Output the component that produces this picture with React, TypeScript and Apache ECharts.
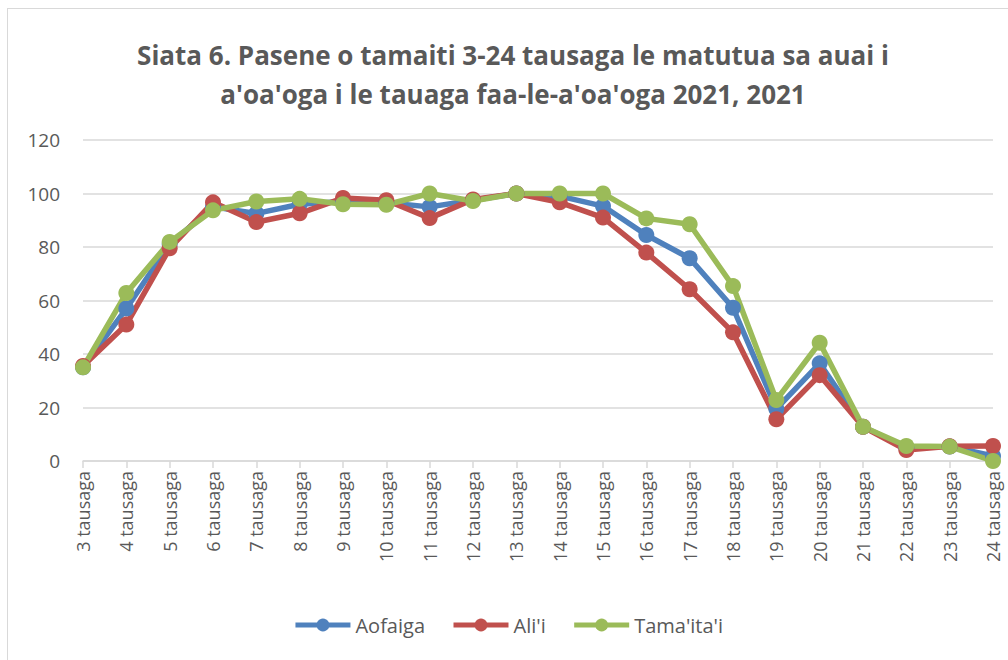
import React, { useEffect, useRef } from "react";
import * as echarts from "echarts";

const categories = [
  "3 tausaga", "4 tausaga", "5 tausaga", "6 tausaga", "7 tausaga", "8 tausaga",
  "9 tausaga", "10 tausaga", "11 tausaga", "12 tausaga", "13 tausaga", "14 tausaga",
  "15 tausaga", "16 tausaga", "17 tausaga", "18 tausaga", "19 tausaga", "20 tausaga",
  "21 tausaga", "22 tausaga", "23 tausaga", "24 tausaga",
];
const aofaiga = [35, 57, 81, 95, 92.5, 96, 97, 96.5, 95, 97.5, 100, 99, 95.3, 84.5, 75.8, 57.3, 19.5, 36.5, 12.8, 5, 5.4, 1.9];
const alii = [35.5, 51, 79.5, 96.7, 89.3, 92.6, 98.3, 97.5, 90.8, 97.8, 100, 96.7, 91, 77.9, 64.2, 48.1, 15.6, 32.1, 12.8, 4.1, 5.5, 5.6];
const tamaitai = [35, 62.8, 81.9, 93.7, 97, 98, 96, 95.8, 100, 97.2, 100, 100, 100, 90.7, 88.5, 65.4, 22.8, 44.2, 12.8, 5.6, 5.4, 0];
const yTicks = { min: 0, max: 120, interval: 20 };

const titleText = "Siata 6. Pasene o tamaiti 3-24 tausaga le matutua sa auai i\na'oa'oga i le tauaga faa-le-a'oa'oga 2021, 2021";

export default function App() {
  const ref = useRef<HTMLDivElement>(null);
  useEffect(() => {
    if (!ref.current) return;
    const chart = echarts.init(ref.current, null, { renderer: "svg" });
    const font = "'Open Sans', 'Noto Sans', sans-serif";
    const mk = (name: string, data: number[], color: string) => ({
      name,
      type: "line",
      data,
      symbol: "circle",
      symbolSize: 16,
      lineStyle: { width: 5.5, color },
      itemStyle: { color },
    });
    chart.setOption({
      animation: false,
      textStyle: { fontFamily: font },
      title: {
        text: titleText,
        left: 500,
        textAlign: "center",
        top: 21,
        textStyle: {
          fontFamily: font,
          fontSize: 26,
          fontWeight: "bold",
          color: "#595959",
          lineHeight: 39,
        },
      },
      legend: {
        bottom: 20,
        left: "center",
        itemWidth: 55,
        itemHeight: 16,
        itemGap: 26,
        lineStyle: { width: 5 },
        textStyle: { fontFamily: font, fontSize: 20, color: "#595959" },
        data: ["Aofaiga", "Ali'i", "Tama'ita'i"],
      },
      grid: { left: 75, right: 15, top: 131, bottom: 199, containLabel: false },
      xAxis: {
        type: "category",
        data: categories,
        boundaryGap: false,
        axisLine: { lineStyle: { color: "#d9d9d9", width: 1.5 } },
        axisTick: { show: true, length: 7, lineStyle: { color: "#d9d9d9", width: 1.5 } },
        axisLabel: { rotate: 90, fontSize: 18, color: "#595959", fontFamily: font, margin: 10 },
      },
      yAxis: {
        type: "value",
        min: yTicks.min,
        max: yTicks.max,
        interval: yTicks.interval,
        axisLine: { show: false },
        axisTick: { show: false },
        axisLabel: { fontSize: 19, color: "#595959", fontFamily: font, margin: 23 },
        splitLine: { lineStyle: { color: "#d9d9d9", width: 1.5 } },
      },
      series: [
        mk("Aofaiga", aofaiga, "#4f81bd"),
        mk("Ali'i", alii, "#c0504d"),
        mk("Tama'ita'i", tamaitai, "#9bbb59"),
      ],
    });
    return () => chart.dispose();
  }, []);
  return (
    <div
      style={{
        position: "fixed",
        left: 7,
        top: 8,
        width: 1010,
        height: 660,
        border: "1px solid #d9d9d9",
        boxSizing: "border-box",
        background: "#fff",
      }}
    >
      <div ref={ref} style={{ width: 1000, height: 651 }} />
    </div>
  );
}
